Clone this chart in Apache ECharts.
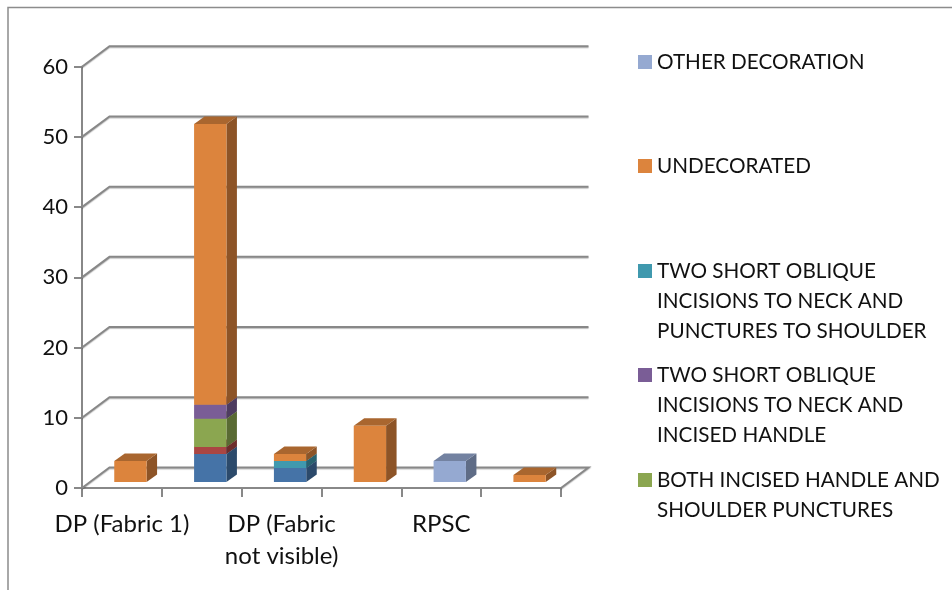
<!DOCTYPE html>
<html><head><meta charset="utf-8">
<style>html,body{margin:0;padding:0;background:#fff}#c{width:952px;height:590px}</style>
<script src="https://cdn.jsdelivr.net/npm/echarts@6/dist/echarts.min.js"></script>
</head><body><div id="c"></div>
<script>
const categories = ['DP (Fabric 1)', '', 'DP (Fabric\nnot visible)', '', 'RPSC', ''];
const yTicks = [0, 10, 20, 30, 40, 50, 60];
const seriesNames = ['SERIES BLUE', 'SERIES RED', 'BOTH INCISED HANDLE AND\nSHOULDER PUNCTURES',
  'TWO SHORT OBLIQUE\nINCISIONS TO NECK AND\nINCISED HANDLE',
  'TWO SHORT OBLIQUE\nINCISIONS TO NECK AND\nPUNCTURES TO SHOULDER',
  'UNDECORATED', 'OTHER DECORATION'];
const colors = ['#4573A7', '#AA4643', '#8BA650', '#7A5D96', '#4099AE', '#DC843D', '#95A9D1'];
const blue       = [0, 4, 2, 0, 0, 0];
const red        = [0, 1, 0, 0, 0, 0];
const green      = [0, 4, 0, 0, 0, 0];
const purple     = [0, 2, 0, 0, 0, 0];
const teal       = [0, 0, 1, 0, 0, 0];
const undecorated= [3, 40, 1, 8, 0, 1];
const other      = [0, 0, 0, 0, 3, 0];
const values = [blue, red, green, purple, teal, undecorated, other];

const WALL = [27.5, 20.5], DEPTH = [10.5, 7.5], SHIFT = [8.5, 6];
const FONT = 'Lato';
const GRID = '#888888';

function shade(hex, k) {
  const n = parseInt(hex.slice(1), 16);
  const c = [n >> 16, (n >> 8) & 255, n & 255].map(v => Math.round(v * k));
  return `rgb(${c.join(',')})`;
}
function renderWalls(params, api) {
  const v = api.value(0);
  const cs = params.coordSys;
  const y = api.coord([0, v])[1];
  const x0 = cs.x, x1 = cs.x + cs.width;
  const pts = [[x0, y], [x0 + WALL[0], y - WALL[1]], [x1 + WALL[0], y - WALL[1]]];
  if (v === 0) pts.push([x1, y]);
  return { type: 'polyline', shape: { points: pts }, silent: true,
    style: { fill: null, stroke: GRID, lineWidth: 2, shadowColor: 'rgba(0,0,0,0.25)', shadowBlur: 1, shadowOffsetY: 1 } };
}
function renderBar(color) {
  return function (params, api) {
    const cat = api.value(0);
    const band = api.size([1, 0])[0];
    const w = band * 0.405;
    const xl = api.coord([cat, 0])[0] - w / 2 + SHIFT[0];
    const xr = xl + w;
    const yb = api.coord([cat, api.value(1)])[1] - SHIFT[1];
    const yt = api.coord([cat, api.value(2)])[1] - SHIFT[1];
    const [dx, dy] = DEPTH;
    return { type: 'group', children: [
      { type: 'polygon', shape: { points: [[xr, yb], [xr + dx, yb - dy], [xr + dx, yt - dy], [xr, yt]] },
        style: { fill: shade(color, 0.64) } },
      { type: 'polygon', shape: { points: [[xl, yt], [xl + dx, yt - dy], [xr + dx, yt - dy], [xr, yt]] },
        style: { fill: shade(color, 0.77) } },
      { type: 'rect', shape: { x: xl, y: yt, width: w, height: yb - yt },
        style: { fill: color } }
    ] };
  };
}
const barSeries = seriesNames.map((name, s) => {
  const data = [];
  categories.forEach((_, i) => {
    const v = values[s][i];
    if (v > 0) {
      let base = 0;
      for (let k = 0; k < s; k++) base += values[k][i];
      data.push([i, base, base + v]);
    }
  });
  return { type: 'custom', name, renderItem: renderBar(colors[s]), clip: false, z: 5,
    itemStyle: { color: colors[s] }, encode: { x: 0, y: [1, 2] }, data };
});
const legendNames = [seriesNames[6], seriesNames[5], seriesNames[4], seriesNames[3], seriesNames[2]];
const legendCenters = [62, 166, 271, 375, 480];
const LH = 30;
const legends = legendNames.map((n, i) => {
  const lines = n.split('\n').length;
  const total = 2 * lines - 1;
  return {
    data: [n], orient: 'vertical', left: 638, top: legendCenters[i] - total * LH / 2, padding: 0,
    icon: 'rect', itemWidth: 14, itemHeight: 14, itemGap: 0, selectedMode: false,
    formatter: t => '\n'.repeat(lines - 1) + t,
    textStyle: { fontFamily: FONT, fontSize: 20.7, color: '#111', lineHeight: LH }
  };
});
const chart = echarts.init(document.getElementById('c'));
chart.setOption({
  animation: false,
  backgroundColor: '#fff',
  legend: legends,
  grid: { left: 82, top: 66.7, width: 479, height: 421.3 },
  xAxis: { type: 'category', data: categories,
    axisLine: { show: true, lineStyle: { color: GRID, width: 2 } },
    axisTick: { show: true, length: 9, alignWithLabel: false, lineStyle: { color: GRID, width: 2 } },
    axisLabel: { interval: 0, fontFamily: FONT, fontSize: 24, color: '#111', lineHeight: 32, margin: 20 } },
  yAxis: { type: 'value', min: 0, max: 60, interval: 10,
    splitLine: { show: false },
    axisLine: { show: true, lineStyle: { color: GRID, width: 2 } },
    axisTick: { show: true, length: 8, lineStyle: { color: GRID, width: 2 } },
    axisLabel: { fontFamily: FONT, fontSize: 22, color: '#111', margin: 14 } },
  graphic: [{ type: 'polyline', silent: true, shape: { points: [[8, 590], [8, 7.5], [952, 7.5]] },
    style: { fill: null, stroke: '#8c8c8c', lineWidth: 1.5 } }],
  series: [{ type: 'custom', renderItem: renderWalls, clip: false, z: 1, silent: true,
    encode: { y: 0 }, data: yTicks.map(v => [v]) }].concat(barSeries)
});
</script></body></html>
